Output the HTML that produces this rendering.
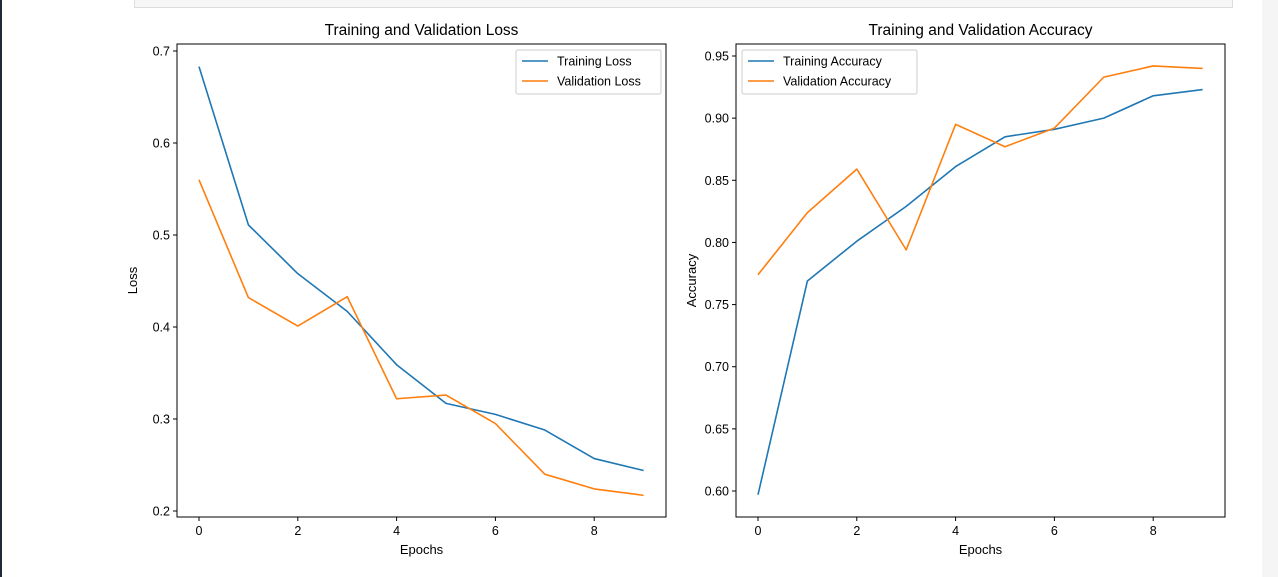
<!DOCTYPE html>
<html><head><meta charset="utf-8"><style>
body{margin:0;width:1278px;height:577px;background:#fff;overflow:hidden;position:relative;font-family:"Liberation Sans","DejaVu Sans",sans-serif}
</style></head><body>
<div style="position:absolute;left:0;top:0;width:2px;height:577px;background:#1e2a36"></div>
<div style="position:absolute;left:134px;top:-2px;width:1097px;height:8px;border:1px solid #ddd;background:#f7f7f7"></div>
<div style="position:absolute;left:1262px;top:0;width:16px;height:577px;background:#f5f5f5"></div>
<svg id="chart" width="1278" height="577" style="position:absolute;left:0;top:0" font-family="Liberation Sans, DejaVu Sans, sans-serif"></svg>
<script>
const epochs=[0,1,2,3,4,5,6,7,8,9];
const trainLoss=[0.683,0.511,0.458,0.417,0.359,0.317,0.305,0.288,0.257,0.244];
const valLoss=[0.560,0.432,0.401,0.433,0.322,0.326,0.295,0.240,0.224,0.217];
const trainAcc=[0.597,0.769,0.801,0.829,0.861,0.885,0.891,0.900,0.918,0.923];
const valAcc=[0.774,0.824,0.859,0.794,0.895,0.877,0.892,0.933,0.942,0.940];
const xTicks=[0,2,4,6,8];
const lossTicks=[0.2,0.3,0.4,0.5,0.6,0.7];
const accTicks=[0.60,0.65,0.70,0.75,0.80,0.85,0.90,0.95];
const svg=document.getElementById('chart');
const NS='http://www.w3.org/2000/svg';
function mk(t,a){const e=document.createElementNS(NS,t);for(const k in a)e.setAttribute(k,a[k]);svg.appendChild(e);return e;}
function panel(o){
  const {x0,x1,y0,y1,xs,ys,ticks,dec,title,ylabel,s1,s2,n1,n2,key,leg}=o;
  const frame=mk('rect',{x:x0,y:y0,width:x1-x0,height:y1-y0,fill:'none',stroke:'#000','stroke-width':1});
  
  
  const t=mk('text',{x:(x0+x1)/2,y:y0-9,'text-anchor':'middle','font-size':15.5,fill:'#000'});t.textContent=title;
  
  
  xTicks.forEach(v=>{const X=xs(v);mk('line',{x1:X,x2:X,y1:y1,y2:y1+4,stroke:'#000'});
    const l=mk('text',{x:X,y:y1+18,'text-anchor':'middle','font-size':12.5});l.textContent=v;
    
    });
  ticks.forEach(v=>{const Y=ys(v);mk('line',{x1:x0-4,x2:x0,y1:Y,y2:Y,stroke:'#000'});
    const l=mk('text',{x:x0-7,y:Y+4.5,'text-anchor':'end','font-size':12.5});l.textContent=v.toFixed(dec);
    
    });
  const xl=mk('text',{x:(x0+x1)/2,y:y1+37,'text-anchor':'middle','font-size':13});xl.textContent='Epochs';
  
  
  const yx=x0-40,yy=(y0+y1)/2;
  const yl=mk('text',{x:yx,y:yy,'text-anchor':'middle','font-size':13,transform:`rotate(-90 ${yx} ${yy})`});yl.textContent=ylabel;
  
  
  [[s1,'#1f77b4','train'],[s2,'#ff7f0e','val']].forEach(([s,c,n])=>{
    const p=mk('polyline',{points:s.map((v,i)=>xs(epochs[i])+','+ys(v)).join(' '),fill:'none',stroke:c,'stroke-width':1.6,'stroke-linejoin':'round'});
    
    
  });
  const lg=mk('rect',{x:leg[0],y:y0+6,width:leg[1],height:44,rx:2,fill:'#fff',stroke:'#ccc'});
  
  
  [[n1,'#1f77b4',0],[n2,'#ff7f0e',1]].forEach(([n,c,i])=>{
    const Y=y0+17+i*20;
    mk('line',{x1:leg[0]+6,x2:leg[0]+32,y1:Y,y2:Y,stroke:c,'stroke-width':1.6});
    const tx=mk('text',{x:leg[0]+41,y:Y+4.5,'font-size':12.5});tx.textContent=n;
    
    
  });
}
panel({x0:177,x1:666,y0:44,y1:517,xs:v=>199+v*49.4,ys:v=>51+(0.7-v)*920,ticks:lossTicks,dec:1,
  title:'Training and Validation Loss',ylabel:'Loss',s1:trainLoss,s2:valLoss,n1:'Training Loss',n2:'Validation Loss',key:'loss',leg:[516,145]});
panel({x0:736,x1:1225,y0:44,y1:517,xs:v=>758+v*49.4,ys:v=>56+(0.95-v)*1242.9,ticks:accTicks,dec:2,
  title:'Training and Validation Accuracy',ylabel:'Accuracy',s1:trainAcc,s2:valAcc,n1:'Training Accuracy',n2:'Validation Accuracy',key:'accuracy',leg:[742,175]});
</script>
</body></html>
